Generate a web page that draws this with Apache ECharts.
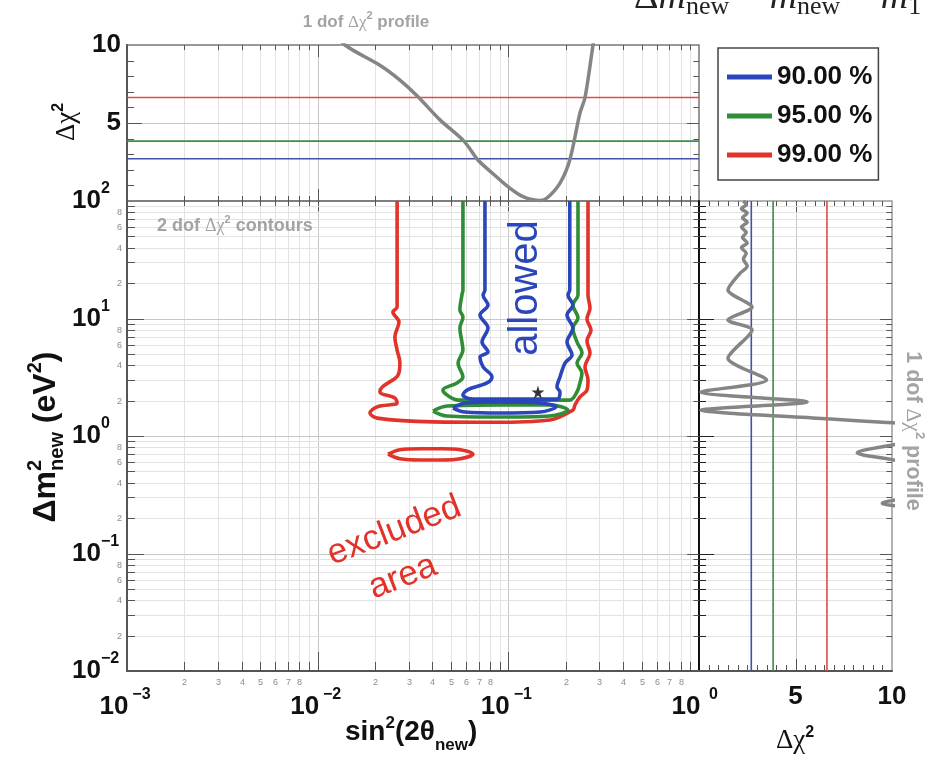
<!DOCTYPE html>
<html>
<head>
<meta charset="utf-8">
<title>Sterile neutrino fit: 2 dof contours and 1 dof profiles</title>
<script src="https://cdn.jsdelivr.net/npm/echarts@6.0.0/dist/echarts.min.js"></script>
<style>
html, body { margin: 0; padding: 0; background: #fff; }
#chart { width: 932px; height: 761px; }
</style>
</head>
<body>
<div id="chart"></div>
<script>
// ---------------- data ----------------
// confidence levels and the 1 dof Δχ² thresholds
const levelNames = ['90.00 %', '95.00 %', '99.00 %'];
const levelDchi2 = [2.71, 3.84, 6.63];
const levelColors = ['#2b46bb', '#2f8d35', '#e2332b'];
const levelLineColors = ['#4451a6', '#3c8d45', '#e24a44'];

// 2 dof contours, points are [sin²(2θ_new), Δm²_new (eV²)]
const contour90 = [[0.0754,100],[0.0754,17.5],[0.0737,15.85],[0.0782,13.03],[0.0710,10.71],[0.0782,8.30],[0.0728,6.31],[0.0782,5.19],[0.0710,4.70],[0.0737,3.87],[0.0821,3.18],[0.0773,2.83],[0.0607,2.46],[0.0578,2.23],[0.0653,2.06],[0.1151,2.06],[0.1799,2.06],[0.1866,2.37],[0.1799,2.61],[0.1866,3.18],[0.1982,4.18],[0.2158,4.89],[0.2031,6.31],[0.218,8.30],[0.2031,10.71],[0.218,13.03],[0.2055,15.85],[0.210,17.5],[0.210,100]];
const contour90Island = [[0.0513,1.73],[0.0593,1.91],[0.0904,1.95],[0.1466,1.91],[0.1778,1.77],[0.1466,1.60],[0.0904,1.57],[0.0593,1.60],[0.0513,1.73]];
const contour95 = [[0.0578,100],[0.0578,17.5],[0.0571,15.85],[0.0557,11.81],[0.0578,10.30],[0.0557,8.30],[0.0571,6.31],[0.0578,5.39],[0.0545,4.18],[0.0578,3.18],[0.0538,2.83],[0.0454,2.46],[0.0477,2.23],[0.0545,2.02],[0.1151,2.02],[0.210,2.02],[0.2291,2.37],[0.2375,2.83],[0.2433,3.44],[0.2291,4.18],[0.2433,5.09],[0.2291,6.31],[0.218,8.30],[0.2319,10.10],[0.218,13.03],[0.2319,15.85],[0.2319,100]];
const contour95Island = [[0.0403,1.63],[0.0477,1.80],[0.0904,1.84],[0.165,1.84],[0.2055,1.66],[0.165,1.48],[0.0904,1.45],[0.0477,1.48],[0.0403,1.63]];
const contour99 = [[0.0261,100],[0.0261,12.5],[0.0248,11.36],[0.0267,9.34],[0.0254,6.96],[0.0261,5.39],[0.0270,4.18],[0.0264,3.30],[0.0218,2.61],[0.0212,2.37],[0.0254,2.11],[0.0261,1.91],[0.0205,1.77],[0.0188,1.57],[0.0205,1.42],[0.0403,1.32],[0.0830,1.31],[0.165,1.37],[0.218,1.66],[0.2237,1.84],[0.2375,2.15],[0.2585,2.46],[0.2617,3.00],[0.2523,3.87],[0.2681,5.09],[0.2585,6.43],[0.2714,7.98],[0.2585,9.90],[0.2681,12.29],[0.2617,15.85],[0.2617,100]];
const contour99Island = [[0.0234,0.70],[0.0270,0.765],[0.035,0.78],[0.045,0.78],[0.056,0.765],[0.0653,0.70],[0.056,0.64],[0.045,0.625],[0.035,0.625],[0.027,0.64],[0.0234,0.70]];
const bestFit = [[0.143, 2.37]];

// 1 dof profile in sin²(2θ_new): [sin²(2θ), Δχ²]
const profileSin = [[0.0125,10.8],[0.0139,10],[0.0212,8.7],[0.027,7.75],[0.0336,6.69],[0.0438,5.2],[0.0585,3.84],[0.0693,2.63],[0.0831,1.75],[0.0996,0.92],[0.1194,0.28],[0.1466,0.03],[0.1595,0.19],[0.1866,1.15],[0.210,2.63],[0.2375,5.64],[0.2523,6.62],[0.278,10],[0.29,11.5]];
// 1 dof profile in Δm²_new: [Δχ², Δm² (eV²)]
const profileDm = [[2.3,100],[2.45,93],[2.2,86],[2.5,79],[2.25,72],[2.5,66],[2.2,60],[2.45,54],[2.25,49],[2.5,44],[2.2,40],[2.45,36],[2.3,32],[2.5,28],[2.1,24],[1.5,17.5],[2.75,12.5],[1.5,9.7],[2.75,8.0],[1.5,4.6],[3.5,3.0],[0.1,2.37],[5.6,1.95],[0.1,1.66],[6.63,1.40],[9.74,1.30],[11,1.24],[11,0.95],[8.2,0.72],[11,0.55],[11,0.32],[9.5,0.268],[11,0.225],[11,0.01]];

// tick label digits shown beside minor ticks
const sinMinorLabels = [2, 3, 4, 5, 6, 7, 8];
const dmMinorLabels = [2, 4, 6, 8];

// ---------------- helpers ----------------
const SANS = "'Liberation Sans', Arial, Helvetica, sans-serif";
const SERIF = "'Liberation Serif', 'DejaVu Serif', 'Times New Roman', serif";
const TICK = '#555';
const GRID_MAJOR = '#c6c6c6';
const GRID_MINOR = '#e3e3e3';
const TEXT_Z = 100;

function logTickList(e0, e1, labelled) {
  const list = [];
  for (let e = e0; e < e1; e++) {
    for (let m = 1; m <= 9; m++) {
      list.push({ v: m * Math.pow(10, e), major: m === 1, text: labelled.indexOf(m) >= 0 ? String(m) : '' });
    }
  }
  list.push({ v: Math.pow(10, e1), major: true, text: '' });
  return list;
}
function linTickList(a, b, step, majorStep) {
  const list = [];
  for (let i = 0; a + i * step <= b + 1e-9; i++) {
    const v = a + i * step;
    list.push({ v: v, major: Math.abs(v / majorStep - Math.round(v / majorStep)) < 1e-9, text: '' });
  }
  return list;
}

// gridlines, inward ticks on all four sides and small minor-tick digits
function frameSeries(idx, cfg) {
  const items = [];
  cfg.x.ticks.forEach(t => items.push(Object.assign({ axis: 'x' }, t)));
  cfg.y.ticks.forEach(t => items.push(Object.assign({ axis: 'y' }, t)));
  const x0 = cfg.x.range[0], x1 = cfg.x.range[1], y0 = cfg.y.range[0], y1 = cfg.y.range[1];
  const seg = (xa, ya, xb, yb, color, w) => ({ type: 'line', shape: { x1: xa, y1: ya, x2: xb, y2: yb }, style: { stroke: color, lineWidth: w } });
  return {
    type: 'custom', xAxisIndex: idx, yAxisIndex: idx, silent: true, z: 1, clip: false,
    data: items.map(it => it.axis === 'x' ? [it.v, y0] : [x0, it.v]),
    renderItem(params, api) {
      const it = items[params.dataIndex];
      const out = [];
      const lo = api.coord([x0, y0]), hi = api.coord([x1, y1]);
      if (it.axis === 'x') {
        const p = api.coord([it.v, y0]);
        const x = Math.round(p[0]) + 0.5;
        const edge = Math.abs(p[0] - lo[0]) < 1 || Math.abs(p[0] - hi[0]) < 1;
        const L = it.major ? cfg.x.tick[0] : cfg.x.tick[1];
        if (!edge) {
          if (cfg.x.grid(it)) out.push(seg(x, lo[1], x, hi[1], it.major ? GRID_MAJOR : GRID_MINOR, 1));
          out.push(seg(x, lo[1], x, lo[1] - L, TICK, 1));
          out.push(seg(x, hi[1], x, hi[1] + L * cfg.x.mirror, TICK, 1));
        }
        if (cfg.x.labels && it.text) {
          out.push({ type: 'text', x: x, y: lo[1] + 7, style: { text: it.text, fill: '#8c8c8c', fontSize: 9, fontFamily: SANS, align: 'center', verticalAlign: 'top' } });
        }
      } else {
        const p = api.coord([x0, it.v]);
        const y = Math.round(p[1]) + 0.5;
        const edge = Math.abs(p[1] - lo[1]) < 1 || Math.abs(p[1] - hi[1]) < 1;
        const L = it.major ? cfg.y.tick[0] : cfg.y.tick[1];
        if (!edge) {
          if (cfg.y.grid(it)) out.push(seg(lo[0], y, hi[0], y, it.major ? GRID_MAJOR : GRID_MINOR, 1));
          out.push(seg(lo[0], y, lo[0] + L, y, cfg.y.tickColor || TICK, 1));
          out.push(seg(hi[0], y, hi[0] - L * cfg.y.mirror, y, TICK, 1));
        }
        if (cfg.y.labels && it.text) {
          out.push({ type: 'text', x: lo[0] - 5, y: y, style: { text: it.text, fill: '#8c8c8c', fontSize: 9, fontFamily: SANS, align: 'right', verticalAlign: 'middle' } });
        }
      }
      return { type: 'group', children: out };
    }
  };
}

// text runs laid out on one baseline (local y = 0), used for titles with super/subscripts
const measureCtx = document.createElement('canvas').getContext('2d');
function textRuns(list, fill, center) {
  let x = 0;
  const els = [];
  list.forEach(r => {
    const weight = r.weight || 'normal';
    const fstyle = r.italic ? 'italic' : 'normal';
    measureCtx.font = fstyle + ' ' + weight + ' ' + r.size + 'px ' + r.family;
    const w = measureCtx.measureText(r.text).width;
    const mid = r.family === SERIF ? 0.3375 : 0.3465;
    els.push({ type: 'text', z: TEXT_Z, x: x, y: (r.dy || 0) - r.size * mid,
      style: { text: r.text, fontSize: r.size, fontWeight: weight, fontStyle: fstyle, fontFamily: r.family, fill: r.fill || fill, align: 'left', verticalAlign: 'middle' } });
    if (!r.keep) x += w;
  });
  if (center) els.forEach(e => { e.x -= x / 2; });
  return els;
}
function textGroup(x, y, rotation, list, fill, center) {
  return { type: 'group', z: TEXT_Z, x: x, y: y, rotation: rotation || 0, silent: true, children: textRuns(list, fill, center) };
}

function powerLabel(v) {
  const e = Math.round(Math.log10(v));
  return '{b|10}{s|' + (e < 0 ? '\u2212' + (-e) : String(e)) + '}';
}
const labelBase = { fontSize: 26, fontWeight: 'bold', fontFamily: SANS, color: '#111', lineHeight: 40 };
const labelSup = { fontSize: 16, fontWeight: 'bold', fontFamily: SANS, color: '#111', lineHeight: 16, verticalAlign: 'top' };

// ---------------- chart ----------------
const sinTicks = logTickList(-3, 0, sinMinorLabels);
const dmTicks = logTickList(-2, 2, dmMinorLabels);

const series = [
  frameSeries(0, {
    x: { ticks: sinTicks.map(t => ({ v: t.v, major: t.major, text: '' })), range: [1e-3, 1], tick: [12, 5], mirror: 1, grid: () => true },
    y: { ticks: linTickList(0, 10, 1, 5), range: [0, 10], tick: [15, 7], mirror: 0.8, grid: t => t.v === 5 }
  }),
  frameSeries(1, {
    x: { ticks: sinTicks, range: [1e-3, 1], tick: [19, 9], mirror: 0.55, grid: () => true, labels: true },
    y: { ticks: dmTicks, range: [1e-2, 1e2], tick: [17, 8], mirror: 0.7, grid: () => true, labels: true }
  }),
  frameSeries(2, {
    x: { ticks: linTickList(0, 10, 0.5, 5), range: [0, 10], tick: [12, 6], mirror: 1, grid: t => t.v === 5 },
    y: { ticks: dmTicks.map(t => ({ v: t.v, major: t.major, text: '' })), range: [1e-2, 1e2], tick: [15, 7], mirror: 0.8, grid: () => true, tickColor: '#222' }
  })
];

// threshold lines in both profile panels
levelDchi2.forEach((v, i) => {
  const common = { name: levelNames[i], type: 'line', showSymbol: false, silent: true, z: 3,
    itemStyle: { color: levelColors[i] }, lineStyle: { color: levelLineColors[i], width: 1.6 } };
  series.push(Object.assign({ xAxisIndex: 0, yAxisIndex: 0, data: [[1e-3, v], [1, v]] }, common));
  series.push(Object.assign({ xAxisIndex: 2, yAxisIndex: 2, data: [[v, 1e-2], [v, 1e2]] }, common));
});

// contours, widest level first so the tighter ones sit on top
const contourSets = [[contour99, contour99Island, 2], [contour95, contour95Island, 1], [contour90, contour90Island, 0]];
contourSets.forEach(set => {
  const i = set[2];
  [set[0], set[1]].forEach(pts => {
    series.push({ name: levelNames[i], type: 'line', xAxisIndex: 1, yAxisIndex: 1, data: pts, showSymbol: false, silent: true,
      smooth: 0.35, z: 4, itemStyle: { color: levelColors[i] }, lineStyle: { color: levelColors[i], width: 3.6 } });
  });
});

series.push({ type: 'line', xAxisIndex: 0, yAxisIndex: 0, data: profileSin, showSymbol: false, silent: true, smooth: 0.3, z: 4,
  lineStyle: { color: '#858585', width: 3.5 } });
series.push({ type: 'line', xAxisIndex: 2, yAxisIndex: 2, data: profileDm, showSymbol: false, silent: true, smooth: 0.25, z: 4,
  lineStyle: { color: '#858585', width: 3.5 } });
series.push({ type: 'scatter', xAxisIndex: 1, yAxisIndex: 1, data: bestFit, silent: true, z: 6,
  symbol: 'path://M50,0 L61,35 L98,35 L68,57 L79,91 L50,70 L21,91 L32,57 L2,35 L39,35 Z', symbolSize: 13,
  itemStyle: { color: '#000' } });

const axisLineDark = { show: true, onZero: false, lineStyle: { color: '#555', width: 2 } };

const option = {
  animation: false,
  backgroundColor: '#fff',
  grid: [
    { left: 127, top: 45, width: 572, height: 156, show: true, borderColor: '#777', borderWidth: 1.5 },
    { left: 127, top: 201, width: 572, height: 470, show: true, borderColor: '#777', borderWidth: 1.5 },
    { left: 699, top: 201, width: 193, height: 470, show: true, borderColor: '#999', borderWidth: 1.5 }
  ],
  xAxis: [
    { gridIndex: 0, type: 'log', logBase: 10, min: 1e-3, max: 1, axisLine: { show: false }, axisTick: { show: false }, axisLabel: { show: false }, splitLine: { show: false } },
    { gridIndex: 1, type: 'log', logBase: 10, min: 1e-3, max: 1, axisLine: axisLineDark, axisTick: { show: false }, splitLine: { show: false },
      axisLabel: { margin: 16, showMinLabel: true, showMaxLabel: true, formatter: powerLabel,
        rich: { b: labelBase, s: Object.assign({ width: 26 }, labelSup) } } },
    { gridIndex: 2, type: 'value', min: 0, max: 10, interval: 5, axisLine: axisLineDark, axisTick: { show: false }, splitLine: { show: false },
      axisLabel: { margin: 11, showMaxLabel: true, formatter: v => v === 0 ? '' : String(v), fontSize: 26, fontWeight: 'bold', fontFamily: SANS, color: '#111', lineHeight: 30 } }
  ],
  yAxis: [
    { gridIndex: 0, type: 'value', min: 0, max: 10, interval: 5, axisLine: axisLineDark, axisTick: { show: false }, splitLine: { show: false },
      axisLabel: { margin: 6, showMaxLabel: true, formatter: v => v === 0 ? '' : String(v), fontSize: 26, fontWeight: 'bold', fontFamily: SANS, color: '#111' } },
    { gridIndex: 1, type: 'log', logBase: 10, min: 1e-2, max: 1e2, axisLine: axisLineDark, axisTick: { show: false }, splitLine: { show: false },
      axisLabel: { align: 'left', margin: 55, showMinLabel: true, showMaxLabel: true, formatter: powerLabel, rich: { b: labelBase, s: labelSup } } },
    { gridIndex: 2, type: 'log', logBase: 10, min: 1e-2, max: 1e2, axisLine: { show: true, onZero: false, lineStyle: { color: '#111', width: 2 } },
      axisTick: { show: false }, axisLabel: { show: false }, splitLine: { show: false } }
  ],
  legend: {
    data: levelNames, orient: 'vertical', left: 718, top: 48, selectedMode: false,
    backgroundColor: '#fff', borderColor: '#444', borderWidth: 1.5, padding: [16, 6, 12, 9],
    icon: 'rect', itemWidth: 45, itemHeight: 5, itemGap: 13,
    textStyle: { fontSize: 26, fontWeight: 'bold', fontFamily: SANS, color: '#111', lineHeight: 26 }
  },
  graphic: { elements: [
    // formula partly above the top edge
    textGroup(634, 11, 0, [
      { text: '\u0394', size: 38, family: SERIF },
      { text: 'm', size: 38, family: SERIF, italic: true },
      { text: '2', size: 26, family: SERIF, dy: -18, keep: true },
      { text: 'new', size: 26, family: SERIF, dy: 5 },
      { text: ' = ', size: 38, family: SERIF },
      { text: 'm', size: 38, family: SERIF, italic: true },
      { text: '2', size: 26, family: SERIF, dy: -18, keep: true },
      { text: 'new', size: 26, family: SERIF, dy: 5 },
      { text: ' \u2212 ', size: 38, family: SERIF },
      { text: 'm', size: 38, family: SERIF, italic: true },
      { text: '2', size: 26, family: SERIF, dy: -18, keep: true },
      { text: '1', size: 26, family: SERIF, dy: 5 }
    ], '#222', false),
    // panel notes
    textGroup(366, 28, 0, [
      { text: '1 dof ', size: 17, weight: 'bold', family: SANS },
      { text: '\u0394\u03c7', size: 17, family: SERIF },
      { text: '2', size: 11, weight: 'bold', family: SANS, dy: -8 },
      { text: ' profile', size: 17, weight: 'bold', family: SANS }
    ], '#a3a3a3', true),
    textGroup(157, 232, 0, [
      { text: '2 dof ', size: 18, weight: 'bold', family: SANS },
      { text: '\u0394\u03c7', size: 18, family: SERIF },
      { text: '2', size: 11, weight: 'bold', family: SANS, dy: -8 },
      { text: ' contours', size: 18, weight: 'bold', family: SANS }
    ], '#a3a3a3', false),
    textGroup(905, 431, -Math.PI / 2, [
      { text: '1 dof ', size: 21.5, weight: 'bold', family: SANS },
      { text: '\u0394\u03c7', size: 21.5, family: SERIF },
      { text: '2', size: 13, weight: 'bold', family: SANS, dy: -10 },
      { text: ' profile', size: 21.5, weight: 'bold', family: SANS }
    ], '#a3a3a3', true),
    // axis titles
    textGroup(57, 437, Math.PI / 2, [
      { text: '\u0394m', size: 32, weight: 'bold', family: SANS },
      { text: '2', size: 20, weight: 'bold', family: SANS, dy: -15, keep: true },
      { text: 'new', size: 20, weight: 'bold', family: SANS, dy: 7 },
      { text: ' (eV', size: 32, weight: 'bold', family: SANS },
      { text: '2', size: 20, weight: 'bold', family: SANS, dy: -15 },
      { text: ')', size: 32, weight: 'bold', family: SANS }
    ], '#111', true),
    textGroup(76, 122, Math.PI / 2, [
      { text: '\u0394\u03c7', size: 27, family: SERIF },
      { text: '2', size: 16, family: SANS, weight: 'bold', dy: -12 }
    ], '#111', true),
    textGroup(345, 742, 0, [
      { text: 'sin', size: 28, weight: 'bold', family: SANS },
      { text: '2', size: 17, weight: 'bold', family: SANS, dy: -13 },
      { text: '(2\u03b8', size: 28, weight: 'bold', family: SANS },
      { text: 'new', size: 17, weight: 'bold', family: SANS, dy: 9 },
      { text: ')', size: 28, weight: 'bold', family: SANS }
    ], '#111', false),
    textGroup(795, 750, 0, [
      { text: '\u0394\u03c7', size: 27, family: SERIF },
      { text: '2', size: 16, family: SANS, weight: 'bold', dy: -12 }
    ], '#111', true),
    // region annotations
    textGroup(540, 288, Math.PI / 2, [{ text: 'allowed', size: 40, family: SANS }], '#2b46bb', true),
    textGroup(394, 530, 21 * Math.PI / 180, [{ text: 'excluded', size: 35, family: SANS, dy: 13 }], '#e2332b', true),
    textGroup(404, 580, 21 * Math.PI / 180, [{ text: 'area', size: 35, family: SANS, dy: 9 }], '#e2332b', true)
  ] },
  series: series
};

const chart = echarts.init(document.getElementById('chart'), null, { renderer: 'canvas' });
chart.setOption(option);
</script>
</body>
</html>
